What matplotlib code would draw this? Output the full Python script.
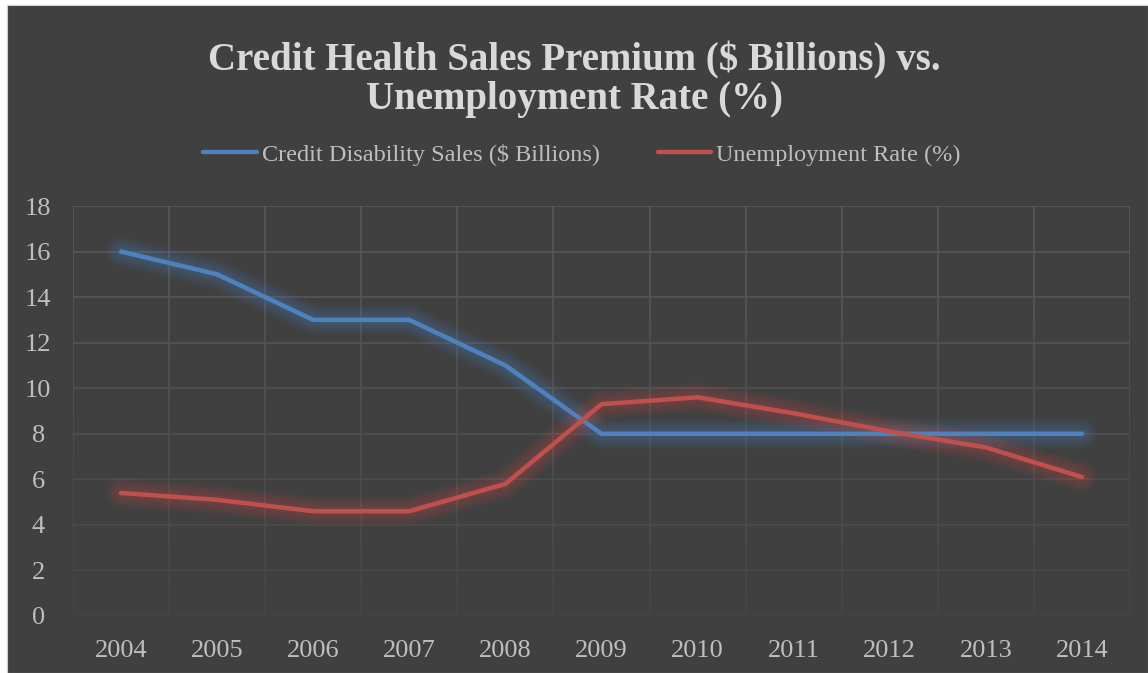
import numpy as np
import matplotlib
matplotlib.use("Agg")
from matplotlib import pyplot as plt
from matplotlib.patches import Rectangle

years = ["2004", "2005", "2006", "2007", "2008", "2009",
         "2010", "2011", "2012", "2013", "2014"]
credit_sales = [16, 15, 13, 13, 11, 8, 8, 8, 8, 8, 8]
unemployment = [5.4, 5.1, 4.6, 4.6, 5.8, 9.3, 9.6, 8.9, 8.1, 7.4, 6.1]
series_names = ["Credit Disability Sales ($ Billions)", "Unemployment Rate (%)"]
yticks = list(range(0, 19, 2))

plt.rcParams['font.family'] = ['Liberation Serif', 'DejaVu Serif']

BG = "#404040"
TXT = "#bfbfbf"
BLUE = "#4f81bd"
RED = "#c0504d"

fig = plt.figure(figsize=(11.48, 6.73), dpi=100)
fig.patch.set_facecolor("white")
fig.patches.append(Rectangle((7 / 1148, 0), 1 - 7 / 1148, 1 - 5 / 673,
                             transform=fig.transFigure, facecolor=BG,
                             edgecolor="#d0d0d0", linewidth=0.8, zorder=-5))

ax = fig.add_axes([73 / 1148, 1 - 616 / 673, (1130 - 73) / 1148, 410 / 673])
ax.set_facecolor("none")
x = np.arange(len(years))
ax.set_xlim(-0.5, len(years) - 0.5)
ax.set_ylim(0, 18)

# gridlines fade out towards the bottom of the plot
def grid_col(y):
    t = y / 18.0
    c = 0x46 + (0x5a - 0x46) * t
    return (c / 255, c / 255, c / 255)

for yv in yticks:
    ax.axhline(yv, color=grid_col(yv), lw=1.2, zorder=1)
ys = np.linspace(0, 18, 60)
for xb in np.arange(-0.5, len(years), 1.0):
    for y0, y1 in zip(ys[:-1], ys[1:]):
        ax.plot([xb, xb], [y0, y1], color=grid_col((y0 + y1) / 2),
                lw=1.2, solid_capstyle="butt", zorder=1)

# soft glow behind each line
for vals, col in [(credit_sales, BLUE), (unemployment, RED)]:
    for lw in np.linspace(22, 5, 10):
        ax.plot(x, vals, color=col, lw=lw, alpha=0.045,
                solid_capstyle="round", solid_joinstyle="round", zorder=2)

l1, = ax.plot(x, credit_sales, color=BLUE, lw=3.2, solid_capstyle="round",
              solid_joinstyle="round", zorder=3, label=series_names[0])
l2, = ax.plot(x, unemployment, color=RED, lw=3.2, solid_capstyle="round",
              solid_joinstyle="round", zorder=4, label=series_names[1])

ax.set_xticks(x)
ax.set_xticklabels(years)
ax.set_yticks(yticks)
ax.tick_params(length=0, colors=TXT, labelsize=19)
ax.tick_params(axis="x", pad=17)
ax.tick_params(axis="y", pad=25)
for lab in ax.get_yticklabels():
    lab.set_horizontalalignment("center")
for s in ax.spines.values():
    s.set_visible(False)

fig.text(0.5, 1 - 80 / 673,
         "Credit Health Sales Premium ($ Billions) vs.\nUnemployment Rate (%)",
         ha="center", va="center", fontsize=28, fontweight="bold",
         color="#d9d9d9", linespacing=1.05)

leg = fig.legend(handles=[l1, l2], loc="center", ncol=2,
                 bbox_to_anchor=(0.507, 1 - 155 / 673), frameon=False,
                 fontsize=17.5, handlelength=2.2, handletextpad=0.2,
                 columnspacing=2.4)
for t in leg.get_texts():
    t.set_color(TXT)

fig.savefig("out.png", dpi=100, facecolor=fig.get_facecolor())
